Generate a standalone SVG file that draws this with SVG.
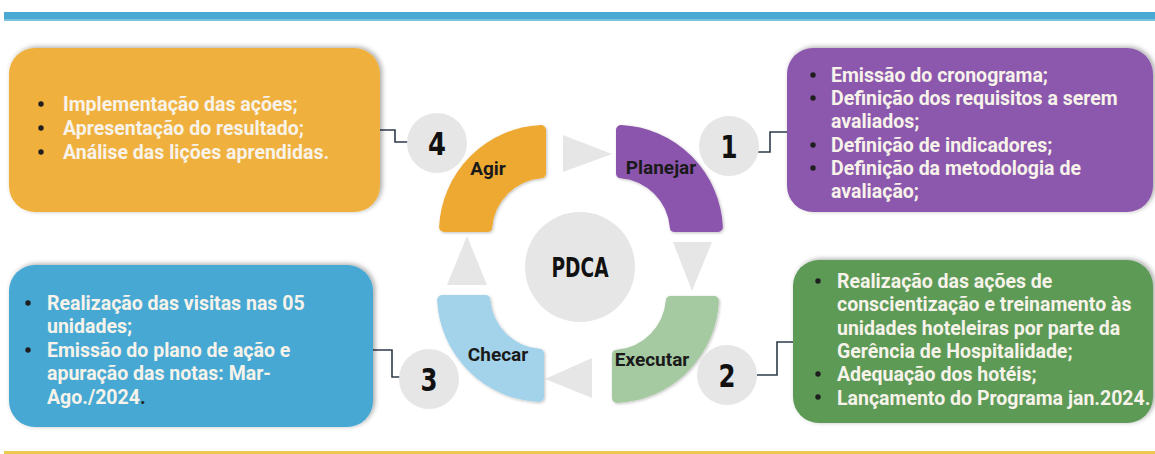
<svg xmlns="http://www.w3.org/2000/svg" width="1155" height="454" viewBox="0 0 1155 454">
<defs>
<filter id="sh" x="-10%" y="-20%" width="120%" height="140%">
<feDropShadow dx="2" dy="-1" stdDeviation="2.5" flood-color="#000" flood-opacity="0.35"/>
</filter>
<filter id="sh2" x="-20%" y="-20%" width="140%" height="140%">
<feDropShadow dx="1" dy="1" stdDeviation="1.5" flood-color="#000" flood-opacity="0.25"/>
</filter>
</defs>
<style>
.bt{font-family:Roboto,"Liberation Sans",sans-serif;font-weight:bold;font-size:19.5px;fill:#f7f3ea}
.bul{fill:#1e1e1e}
.seg{stroke-width:10;stroke-linejoin:round;filter:url(#sh2)}
.lab{font-family:Roboto,"Liberation Sans",sans-serif;font-weight:bold;font-size:19px;fill:#1a1a1a;text-anchor:middle}
.num{font-family:"DejaVu Sans Condensed","DejaVu Sans","Liberation Sans Narrow",sans-serif;font-stretch:condensed;font-weight:bold;font-size:32px;fill:#111;text-anchor:middle}
.circ{fill:#e6e6e6}
.tri{fill:#e6e6e6}
.conn{fill:none;stroke:#2e3b4c;stroke-width:1.6}
</style>
<rect x="4" y="12" width="1151" height="9" fill="#49a9d2"/>
<rect x="4" y="19" width="1151" height="2" fill="#7cc3e0"/>
<rect x="4" y="451" width="1151" height="3" fill="#ebc84e"/>

<g id="connectors">
<path class="conn" d="M380,130 H395 V142 H408"/>
<path class="conn" d="M757,152 H770 V132 H787"/>
<path class="conn" d="M373,350 H392 V377 H400"/>
<path class="conn" d="M757,375 H777 V342 H793"/>
</g>

<g id="box-agir">
<rect x="9" y="48" width="371" height="164" rx="26" fill="#f0b03c" filter="url(#sh)"/>
<circle class="bul" cx="41" cy="104" r="2.7"/>
<circle class="bul" cx="41" cy="128" r="2.7"/>
<circle class="bul" cx="41" cy="152" r="2.7"/>
<text class="bt" x="63" y="110.5">Implementação das ações;</text>
<text class="bt" x="63" y="134.5">Apresentação do resultado;</text>
<text class="bt" x="63" y="158.5">Análise das lições aprendidas.</text>
</g>

<g id="box-planejar">
<rect x="787" y="48" width="366" height="164" rx="26" fill="#8c58ad" filter="url(#sh)"/>
<circle class="bul" cx="813" cy="75" r="2.7"/>
<circle class="bul" cx="813" cy="98" r="2.7"/>
<circle class="bul" cx="813" cy="145" r="2.7"/>
<circle class="bul" cx="813" cy="168" r="2.7"/>
<text class="bt" x="831" y="81.5">Emissão do cronograma;</text>
<text class="bt" x="831" y="104.5">Definição dos requisitos a serem</text>
<text class="bt" x="831" y="128">avaliados;</text>
<text class="bt" x="831" y="151.5">Definição de indicadores;</text>
<text class="bt" x="831" y="174.5">Definição da metodologia de</text>
<text class="bt" x="831" y="197.5">avaliação;</text>
</g>

<g id="box-checar">
<rect x="9" y="265" width="364" height="162" rx="26" fill="#47a9d3" filter="url(#sh)"/>
<circle class="bul" cx="28" cy="303" r="2.7"/>
<circle class="bul" cx="28" cy="350" r="2.7"/>
<text class="bt" x="47" y="309.5">Realização das visitas nas 05</text>
<text class="bt" x="47" y="333">unidades;</text>
<text class="bt" x="47" y="356.5">Emissão do plano de ação e</text>
<text class="bt" x="47" y="380">apuração das notas: Mar-</text>
<text class="bt" x="47" y="403.5">Ago./2024<tspan fill="#1e1e1e">.</tspan></text>
</g>

<g id="box-executar">
<rect x="793" y="260" width="360" height="163" rx="26" fill="#5b9a57" filter="url(#sh)"/>
<circle class="bul" cx="818" cy="281" r="2.7"/>
<circle class="bul" cx="818" cy="374" r="2.7"/>
<circle class="bul" cx="818" cy="397" r="2.7"/>
<text class="bt" x="837" y="288">Realização das ações de</text>
<text class="bt" x="837" y="311">conscientização e treinamento às</text>
<text class="bt" x="837" y="334.5">unidades hoteleiras por parte da</text>
<text class="bt" x="837" y="357.5">Gerência de Hospitalidade;</text>
<text class="bt" x="837" y="381">Adequação dos hotéis;</text>
<text class="bt" x="837" y="404.5">Lançamento do Programa jan.2024.</text>
</g>

<g id="arrows">
<polygon class="tri" points="563,135 563,172 612,154"/>
<polygon class="tri" points="673,242 712,242 692,291"/>
<polygon class="tri" points="592,358 592,398 545,379"/>
<polygon class="tri" points="447,285 487,285 467,236"/>
</g>

<g id="seg-agir">
<path class="seg" fill="#eea930" stroke="#eea930" d="M444.1,227 A102,102 0 0 1 541,130.1 L541,173.2 A59,59 0 0 0 487.2,227 Z"/>
<text class="lab" x="488" y="175">Agir</text>
</g>
<g id="seg-planejar">
<path class="seg" fill="#8c55ad" stroke="#8c55ad" d="M621,130.1 A102,102 0 0 1 717.9,227 L674.8,227 A59,59 0 0 0 621,173.2 Z"/>
<text class="lab" x="661" y="174">Planejar</text>
</g>
<g id="seg-executar">
<path class="seg" fill="#a5c9a1" stroke="#a5c9a1" d="M713.9,301 A102,102 0 0 1 617,397.9 L617,354.8 A59,59 0 0 0 670.8,301 Z"/>
<text class="lab" x="652" y="366">Executar</text>
</g>
<g id="seg-checar">
<path class="seg" fill="#a3d3ea" stroke="#a3d3ea" d="M442.1,300 L485.2,300 A59,59 0 0 0 539,353.8 L539,396.9 A102,102 0 0 1 442.1,300 Z"/>
<text class="lab" x="498" y="361">Checar</text>
</g>

<g id="pdca">
<circle class="circ" cx="580" cy="267" r="55"/>
<text class="num" x="580" y="277" style="font-size:27px" textLength="57" lengthAdjust="spacingAndGlyphs">PDCA</text>
</g>
<g id="num-1">
<circle class="circ" cx="729" cy="146" r="30"/>
<text class="num" x="729" y="157.5" textLength="17" lengthAdjust="spacingAndGlyphs">1</text>
</g>
<g id="num-2">
<circle class="circ" cx="727" cy="375" r="30"/>
<text class="num" x="727" y="386.5" textLength="17" lengthAdjust="spacingAndGlyphs">2</text>
</g>
<g id="num-3">
<circle class="circ" cx="429" cy="379" r="30"/>
<text class="num" x="429" y="390.5" textLength="17" lengthAdjust="spacingAndGlyphs">3</text>
</g>
<g id="num-4">
<circle class="circ" cx="437" cy="143" r="30"/>
<text class="num" x="437" y="154.5" textLength="18" lengthAdjust="spacingAndGlyphs">4</text>
</g>
</svg>
